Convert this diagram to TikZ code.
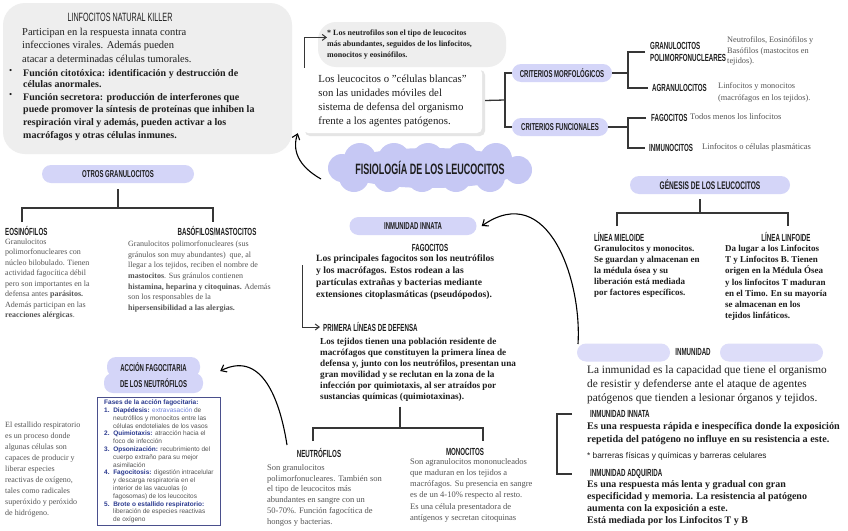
\documentclass[tikz,border=0pt]{standalone}
\usepackage{fontspec}
\setmainfont{Liberation Serif}
\newfontfamily\headfont[FakeStretch=0.6]{Liberation Sans}
\newfontfamily\fasesfont{Liberation Sans}
\usetikzlibrary{positioning,arrows.meta}
\definecolor{LKLav}{HTML}{D4D5F8}
\definecolor{LKCloud}{HTML}{C6C8F4}
\definecolor{LKGray}{HTML}{EEEEEE}
\definecolor{LKInk}{HTML}{1E1E1E}
\definecolor{LKSoft}{HTML}{555555}
\definecolor{LKLine}{HTML}{363636}
\definecolor{LKNavy}{HTML}{2B3A8F}
\definecolor{LKSky}{HTML}{6C7FD8}
\definecolor{LKFrame}{HTML}{4A4F8C}
\newcommand{\lksize}[2]{\fontsize{#1}{#2}\selectfont}

\begin{document}
\begin{tikzpicture}[x=1pt,y=-1pt,
  pill/.style={fill=LKLav,rounded corners=9pt,minimum height=18pt,inner sep=0pt,
    font=\headfont\bfseries\lksize{10}{10},text=LKInk},
  head/.style={font=\headfont\bfseries\lksize{10.3}{12},text=LKInk,inner sep=0pt},
  txt/.style={anchor=north west,align=left,inner sep=0pt,text=LKInk},
  soft/.style={txt,text=LKSoft},
  link/.style={LKLine,line width=1.3pt},
  hand/.style={black,line width=1.1pt,-{Straight Barb[length=5pt,width=8pt]}}]
\path[use as bounding box] (0,0) rectangle (848,530);
\fill[white] (0,0) rectangle (848,530);

% linfocitos natural killer
\fill[LKGray,rounded corners=22pt] (3,3) rectangle (292,154);
\node[head,font=\headfont\lksize{12}{12}] (nkhead) at (120,17) {LINFOCITOS NATURAL KILLER};
\node[txt,font=\lksize{10.5}{13.5}] (nktx) at (22,28) {Participan en la respuesta innata contra\\infecciones virales. Además pueden\\atacar a determinadas células tumorales.};
\node[txt,font=\lksize{9}{11}] (dot1) at (9,69) {\textbullet};
\node[txt,font=\bfseries\lksize{10}{11}] (nkb1) at (23,69) {Función citotóxica: identificación y destrucción de\\células anormales.};
\node[txt,font=\lksize{9}{11}] (dot2) at (9,93) {\textbullet};
\node[txt,font=\bfseries\lksize{10}{12.7}] (nkb2) at (23,93) {Función secretora: producción de interferones que\\puede promover la síntesis de proteínas que inhiben la\\respiración viral y además, pueden activar a los\\macrófagos y otras células inmunes.};

% leucocitos
\fill[LKGray,rounded corners=18pt] (318,22) rectangle (506,67);
\node[txt,font=\bfseries\lksize{8}{11}] (nbub) at (327,29.5) {* Los neutrofilos son el tipo de leucocitos\\más abundantes, seguidos de los linfocitos,\\monocitos y eosinófilos.};
\fill[black!10,rounded corners=5pt] (305,70) rectangle (485,136);
\node[fill=white,rounded corners=5pt,minimum width=179,minimum height=65,align=left,
  font=\lksize{10.8}{14},text=LKInk] (leuco) at (392.5,100.5) {Los leucocitos o "células blancas"\\son las unidades móviles del\\sistema de defensa del organismo\\frente a los agentes patógenos.};
\draw[LKLine,line width=1pt,-{Straight Barb[length=4pt,width=6pt]}] ([xshift=2pt]leuco.north west) |- ([yshift=7pt]nbub.west);

% criterios
\node[pill,minimum width=100] (crit1) at (562,73) {CRITERIOS MORFOLÓGICOS};
\node[pill,minimum width=96] (crit2) at (560,127) {CRITERIOS FUNCIONALES};
\coordinate (critfork) at (505,100);
\draw[link] ([xshift=3pt]leuco.east) -- (critfork);
\draw[link] (crit1.west) -| (critfork) |- (crit2.west);
\node[head,anchor=west,align=left] (gran) at (650,52) {GRANULOCITOS\\POLIMORFONUCLEARES};
\node[head,anchor=west] (agran) at (652,88) {AGRANULOCITOS};
\node[soft,font=\lksize{8.3}{10.8}] (grantx) at (727,36.3) {Neutrofilos, Eosinófilos y\\Basófilos (mastocitos en\\tejidos).};
\node[soft,font=\lksize{8.3}{12}] (agrantx) at (718,82.3) {Linfocitos y monocitos\\(macrófagos en los tejidos).};
\coordinate (morfork) at (628,73);
\draw[link] (crit1.east) -- (morfork);
\draw[link] ([xshift=-5pt]gran.west) -| (morfork) |- ([xshift=-4pt]agran.west);
\node[head,anchor=west] (fago) at (651,118) {FAGOCITOS};
\node[soft,font=\lksize{8.5}{10}] (fagotx) at (690,113.2) {Todos menos los linfocitos};
\node[head,anchor=west] (inmc) at (649,148) {INMUNOCITOS};
\node[soft,font=\lksize{8.5}{10}] (inmctx) at (702,143.2) {Linfocitos o células plasmáticas};
\coordinate (funfork) at (628,127);
\draw[link] (crit2.east) -- (funfork);
\draw[link] ([xshift=-5pt]fago.west) -| (funfork) |- ([xshift=-4pt]inmc.west);

% fisiologia
\fill[LKCloud] (430,168) ellipse (92 and 20);
\foreach \cx in {354,388,422,456,490} {
  \fill[LKCloud] (\cx+6,159) circle (16);
  \fill[LKCloud] (\cx,177) circle (15);
}
\fill[LKCloud] (342,168) circle (14);
\fill[LKCloud] (518,170) circle (14);
\node[font=\headfont\bfseries\lksize{15}{15},text=LKInk] (fisio) at (430,168) {FISIOLOGÍA DE LOS LEUCOCITOS};
\coordinate (fisiotail) at (321,179);
\draw[hand] (fisiotail) .. controls (298,166) and (292,150) .. ([xshift=-5pt]leuco.south west);

% otros granulocitos
\node[pill,minimum width=152] (otros) at (118,174) {OTROS GRANULOCITOS};
\coordinate (otrosfork) at (118,208);
\coordinate (eosdrop) at (22,222);
\coordinate (basodrop) at (213,222);
\draw[link] ([yshift=-6pt]otros.south) -- (otrosfork);
\draw[link] (eosdrop) |- (otrosfork) -| (basodrop);
\node[head,anchor=west] (eos) at (5,231) {EOSINÓFILOS};
\node[head] (baso) at (217,231) {BASÓFILOS/MASTOCITOS};
\node[soft,font=\lksize{8}{10.5}] (eostx) at (5,238.5) {Granulocitos\\polimorfonucleares con\\núcleo bilobulado. Tienen\\actividad fagocítica débil\\pero son importantes en la\\defensa antes \textbf{parásitos.}\\Además participan en las\\\textbf{reacciones alérgicas}.};
\node[soft,font=\lksize{8}{10.7}] (basotx) at (128,240.5) {Granulocitos polimorfonucleares (sus\\gránulos son muy abundantes)\ \ que, al\\llegar a los tejidos, reciben el nombre de\\\textbf{mastocitos}. Sus gránulos contienen\\\textbf{histamina, heparina y citoquinas.} Además\\son los responsables de la\\\textbf{hipersensibilidad a las alergias.}};

% inmunidad innata
\node[pill,minimum width=127] (innata) at (413,226) {INMUNIDAD INNATA};
\node[head] (fagoh) at (430,248) {FAGOCITOS};
\node[txt,font=\bfseries\lksize{9.6}{12}] (fagotx2) at (316,254.5) {Los principales fagocitos son los neutrófilos\\y los macrófagos. Estos rodean a las\\partículas extrañas y bacterias mediante\\extensiones citoplasmáticas (pseudópodos).};
\node[head,anchor=west] (primera) at (323,327) {PRIMERA LÍNEAS DE DEFENSA};
\coordinate (primstart) at (302,265);
\draw[LKLine,line width=1pt,-{Straight Barb[length=4pt,width=6pt]}] (primstart) |- ([xshift=-3pt]primera.west);
\node[txt,font=\bfseries\lksize{9.2}{11}] (primtx) at (320,337.8) {Los tejidos tienen una población residente de\\macrófagos que constituyen la primera línea de\\defensa y, junto con los neutrófilos, presentan una\\gran movilidad y se reclutan en la zona de la\\infección por quimiotaxis, al ser atraídos por\\sustancias químicas (quimiotaxinas).};
\coordinate (primfork) at (400,428);
\coordinate (neutdrop) at (313,441);
\coordinate (monodrop) at (483,441);
\draw[link] ([yshift=-5pt]primfork |- primtx.south) -- (primfork);
\draw[link] (neutdrop) |- (primfork) -| (monodrop);
\node[head] (neut) at (319,453) {NEUTRÓFILOS};
\node[head] (mono) at (465,452) {MONOCITOS};
\node[soft,font=\lksize{8.5}{10.8}] (neuttx) at (267,464.2) {Son granulocitos\\polimorfonucleares. También son\\el tipo de leucocitos más\\abundantes en sangre con un\\50-70\%. Función fagocítica de\\hongos y bacterias.};
\node[soft,font=\lksize{8.5}{11.2}] (monotx) at (410,458.2) {Son agranulocitos mononucleados\\que maduran en los tejidos a\\macrófagos. Su presencia en sangre\\es de un 4-10\% respecto al resto.\\Es una célula presentadora de\\antígenos y secretan citoquinas};

% accion fagocitaria
\node[pill,minimum width=93,minimum height=20] (acc1) at (153.5,367) {ACCIÓN FAGOCITARIA};
\node[pill,minimum width=99,minimum height=20] (acc2) at (153.5,383) {DE LOS NEUTRÓFILOS};
\coordinate (neuttail) at (287,445);
\draw[hand] (neuttail) .. controls (280,400) and (262,350) .. ([xshift=20pt,yshift=-4pt]acc1.east);
\node[draw=LKFrame,line width=0.8pt,anchor=north west,align=left,inner sep=2.5pt,
  minimum width=123,font=\fasesfont\lksize{6.5}{7.8},text=LKSoft] (fases) at (97,397) {%
  \textcolor{LKNavy}{\textbf{Fases de la acción fagocitaria:}}\\
  \textcolor{LKNavy}{\textbf{1.\ \ Diapédesis:}} \textcolor{LKSky}{extravasación} de\\
  \hspace*{9pt}neutrófilos y monocitos entre las\\
  \hspace*{9pt}células endoteliales de los vasos\\
  \textcolor{LKNavy}{\textbf{2.\ \ Quimiotaxis:}} atracción hacia el\\
  \hspace*{9pt}foco de infección\\
  \textcolor{LKNavy}{\textbf{3.\ \ Opsonización:}} recubrimiento del\\
  \hspace*{9pt}cuerpo extraño para su mejor\\
  \hspace*{9pt}asimilación\\
  \textcolor{LKNavy}{\textbf{4.\ \ Fagocitosis:}} digestión intracelular\\
  \hspace*{9pt}y descarga respiratoria en el\\
  \hspace*{9pt}interior de las vacuolas (o\\
  \hspace*{9pt}fagosomas) de los leucocitos\\
  \textcolor{LKNavy}{\textbf{5.\ \ Brote o estallido respiratorio:}}\\
  \hspace*{9pt}liberación de especies reactivas\\
  \hspace*{9pt}de oxígeno};
\node[soft,font=\lksize{8}{11}] (estallido) at (5,421.4) {El estallido respiratorio\\es un proceso donde\\algunas células son\\capaces de producir y\\liberar especies\\reactivas de oxígeno,\\tales como radicales\\superóxido y peróxido\\de hidrógeno.};

% genesis
\node[pill,minimum width=160,font=\headfont\bfseries\lksize{11}{11}] (gen) at (710,185) {GÉNESIS DE LOS LEUCOCITOS};
\coordinate (genfork) at (700,213);
\coordinate (mieldrop) at (617,226);
\coordinate (linfdrop) at (788,226);
\draw[link] ([yshift=-5pt]gen.south -| genfork) -- (genfork);
\draw[link] (mieldrop) |- (genfork) -| (linfdrop);
\node[head,anchor=west] (miel) at (594,237) {LÍNEA MIELOIDE};
\node[head] (linf) at (786,237) {LÍNEA LINFOIDE};
\node[txt,font=\bfseries\lksize{9}{11}] (mieltx) at (594,245) {Granulocitos y monocitos.\\Se guardan y almacenan en\\la médula ósea y su\\liberación está mediada\\por factores específicos.};
\node[txt,font=\bfseries\lksize{9}{11.2}] (linftx) at (725,245) {Da lugar a los Linfocitos\\T y Linfocitos B. Tienen\\origen en la Médula Ósea\\y los linfocitos T maduran\\en el Timo. En su mayoría\\se almacenan en los\\tejidos linfáticos.};

% inmunidad
\node[pill,minimum width=93,fill=LKLav!80] (inmp1) at (623.5,352.5) {};
\node[pill,minimum width=103,fill=LKLav!80] (inmp2) at (771.5,352.5) {};
\node[head] (inm) at (693,352) {INMUNIDAD};
\coordinate (inmtail) at (578,344);
\draw[hand] (inmtail) .. controls (582,280) and (548,180) .. ([xshift=5pt]innata.east);
\node[txt,font=\lksize{11.3}{14}] (inmtx) at (587,365) {La inmunidad es la capacidad que tiene el organismo\\de resistir y defenderse ante el ataque de agentes\\patógenos que tienden a lesionar órganos y tejidos.};
\node[head,anchor=west] (innh) at (590,414) {INMUNIDAD INNATA};
\node[txt,font=\bfseries\lksize{10.2}{12.5}] (inntx) at (587,422.5) {Es una respuesta rápida e inespecífica donde la exposición\\repetida del patógeno no influye en su resistencia a este.};
\node[txt,font=\fasesfont\lksize{8.3}{10},text=LKInk] (barr) at (587,452.3) {* barreras físicas y químicas y barreras celulares};
\node[head,anchor=west] (adqh) at (590,474) {INMUNIDAD ADQUIRIDA};
\node[txt,font=\bfseries\lksize{10}{12}] (adqtx) at (587,480.5) {Es una respuesta más lenta y gradual con gran\\especificidad y memoria. La resistencia al patógeno\\aumenta con la exposición a este.\\Está mediada por los Linfocitos T y B};
\draw[link] ([xshift=-18pt]innh.west) -- ++(-15,0) |- ([xshift=-18pt]adqh.west);
\end{tikzpicture}
\end{document}
